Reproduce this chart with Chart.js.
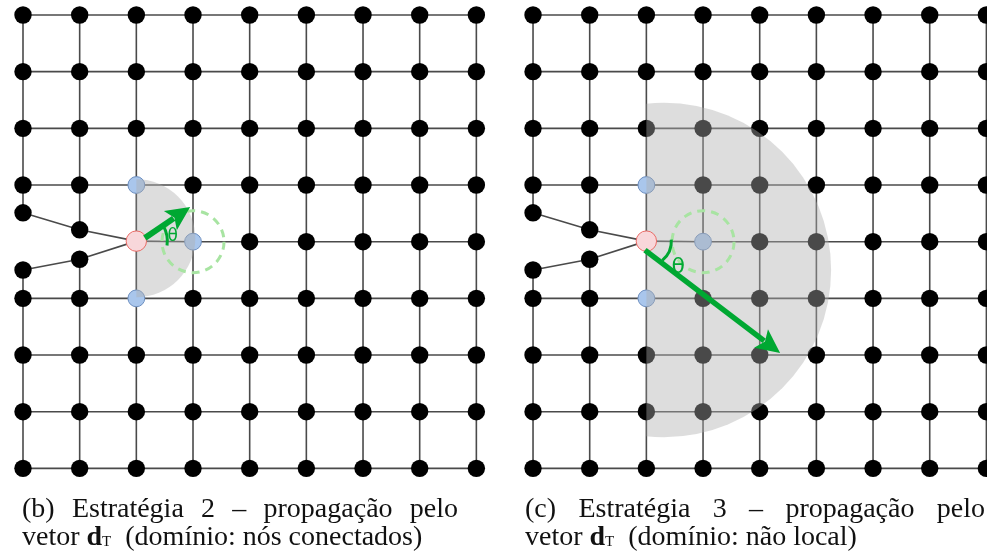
<!DOCTYPE html>
<html>
<head>
<meta charset="utf-8">
<script src="https://cdn.jsdelivr.net/npm/chart.js@4"></script>
<style>
  body { margin: 0; background: #fff; }
  #wrap { position: relative; width: 987px; height: 555px; overflow: hidden; }
  #chart { position: absolute; left: 0; top: 0; }
  .cap { position: absolute; font-family: "Liberation Serif", "Times New Roman", serif; font-size: 28px; line-height: 28px; color: #111; white-space: nowrap; }
  .cap .l1 { text-align: justify; text-align-last: justify; }
  .cap sub { font-size: 15px; vertical-align: baseline; position: relative; top: 1px; }
</style>
</head>
<body>
<div id="wrap">
  <canvas id="chart" width="987" height="555"></canvas>
  <div class="cap" style="left:22px; top:494px; width:436px;">
    <div class="l1">(b) Estratégia 2 – propagação pelo</div>
    <div>vetor <b>d</b><sub>T</sub>&nbsp; (domínio: nós conectados)</div>
  </div>
  <div class="cap" style="left:525px; top:494px; width:460px;">
    <div class="l1">(c) Estratégia 3 – propagação pelo</div>
    <div>vetor <b>d</b><sub>T</sub>&nbsp; (domínio: não local)</div>
  </div>
</div>
<script>
// grid units: one step between neighbouring nodes
var panelOffsets = [0, 9];              // (b) and (c) side by side
var gridCols = [0, 1, 2, 3, 4, 5, 6, 7, 8];
var gridRows = [0, 1, 2, 3, 4, 5, 6, 7, 8];
var bendUpper = [[0, 3.49], [1, 3.79]];  // nodes bent towards the source
var bendLower = [[1, 4.31], [0, 4.5]];
var sourceNode = [2, 3.99];
var neighbourNodes = [[2, 3], [3, 4], [2, 5]];
var vectorTails = [[2.15, 3.935], [1.975, 4.15]];  // d_T start, per panel
var vectorTips = [[2.95, 3.39], [4.36, 5.965]];    // d_T end, per panel
var shadeCentres = [[2, 3.94], [2.31, 4.5]];
var shadeRadii = [1.04, 2.95];
var thetaLabels = ["θ", "θ"];

var step = 56.67;
var inkGreen = "#00a832";

function P(o, p) { return { x: p[0] + o, y: p[1] }; }
function isNeighbour(c, r) {
  return neighbourNodes.some(function (n) { return n[0] === c && n[1] === r; });
}

var edgeSets = [];
var blackPts = [], bluePts = [], redPts = [];

panelOffsets.forEach(function (o) {
  // horizontal lines
  gridRows.forEach(function (r) {
    var line = [];
    if (r === 4) {
      line.push(P(o, sourceNode));
      gridCols.forEach(function (c) { if (c > 2) line.push(P(o, [c, r])); });
    } else {
      gridCols.forEach(function (c) { line.push(P(o, [c, r])); });
    }
    edgeSets.push(line);
  });
  edgeSets.push([P(o, bendUpper[0]), P(o, bendUpper[1]), P(o, sourceNode)]);
  edgeSets.push([P(o, sourceNode), P(o, bendLower[0]), P(o, bendLower[1])]);
  // vertical lines
  gridCols.forEach(function (c) {
    if (c < 2) {
      var up = gridRows.filter(function (r) { return r < 4; }).map(function (r) { return P(o, [c, r]); });
      up.push(P(o, c === 0 ? bendUpper[0] : bendUpper[1]));
      var down = [P(o, c === 0 ? bendLower[1] : bendLower[0])];
      gridRows.forEach(function (r) { if (r > 4) down.push(P(o, [c, r])); });
      edgeSets.push(up, down);
    } else {
      edgeSets.push(gridRows.map(function (r) {
        return (c === 2 && r === 4) ? P(o, sourceNode) : P(o, [c, r]);
      }));
    }
  });
  // nodes
  gridRows.forEach(function (r) {
    gridCols.forEach(function (c) {
      if (r === 4 && c <= 2) return;
      if (isNeighbour(c, r)) return;
      blackPts.push(P(o, [c, r]));
    });
  });
  bendUpper.concat(bendLower).forEach(function (p) { blackPts.push(P(o, p)); });
  neighbourNodes.forEach(function (p) { bluePts.push(P(o, p)); });
  redPts.push(P(o, sourceNode));
});

var datasets = edgeSets.map(function (line) {
  return { data: line, showLine: true, borderColor: "#4a4a4a", borderWidth: 1.6,
           pointRadius: 0, order: 10 };
});
datasets.push({ data: blackPts, pointRadius: 8.7, backgroundColor: "#000", borderWidth: 0, order: 5 });
datasets.push({ data: bluePts, pointRadius: 8.4, backgroundColor: "#a9c6ec", borderColor: "#6c8ebf", borderWidth: 1, order: 4 });
var redIndex = datasets.length;
datasets.push({ data: redPts, pointRadius: 10.2, backgroundColor: "#f8d7da", borderColor: "#ea6b66", borderWidth: 1, order: 1 });

function px(chart, x, y) {
  return [chart.scales.x.getPixelForValue(x), chart.scales.y.getPixelForValue(y)];
}

var shadePlugin = {
  id: "shade",
  beforeDatasetDraw: function (chart, args) {
    if (args.index !== redIndex) return;
    var ctx = chart.ctx;
    panelOffsets.forEach(function (o, i) {
      var c = px(chart, shadeCentres[i][0] + o, shadeCentres[i][1]);
      var rad = chart.scales.x.getPixelForValue(shadeRadii[i]) - chart.scales.x.getPixelForValue(0);
      var edge = px(chart, sourceNode[0] + o, 0)[0];
      ctx.save();
      ctx.beginPath();
      ctx.rect(edge, 0, chart.width, chart.height);
      ctx.clip();
      ctx.beginPath();
      ctx.arc(c[0], c[1], rad, 0, Math.PI * 2);
      ctx.fillStyle = "rgba(175,175,175,0.42)";
      ctx.fill();
      ctx.restore();
    });
  }
};

// angle marker style per panel: arc radius, arc span, label distance / angle
var arcStyle = [
  { r: 31, from: -0.5, to: 0.14, lblDist: 36.5, lblAng: -0.12, font: "17px" },
  { r: 25, from: -0.06, to: 0.88, lblDist: 41, lblAng: 0.68, font: "22px" }
];

var vectorPlugin = {
  id: "vector",
  afterDatasetsDraw: function (chart) {
    var ctx = chart.ctx;
    panelOffsets.forEach(function (o, i) {
      // dashed ring around the closest neighbour
      var nb = px(chart, neighbourNodes[1][0] + o, neighbourNodes[1][1]);
      ctx.save();
      ctx.setLineDash([8, 6]);
      ctx.lineWidth = 3;
      ctx.strokeStyle = "#a8e4a2";
      ctx.beginPath();
      ctx.arc(nb[0], nb[1], 31, 0, Math.PI * 2);
      ctx.stroke();
      ctx.restore();

      var src = px(chart, sourceNode[0] + o, sourceNode[1]);
      var s = px(chart, vectorTails[i][0] + o, vectorTails[i][1]);
      var t = px(chart, vectorTips[i][0] + o, vectorTips[i][1]);
      var ang = Math.atan2(t[1] - s[1], t[0] - s[0]);
      var ux = Math.cos(ang), uy = Math.sin(ang);
      var headLen = 24, headHalf = 11.5;
      ctx.save();
      ctx.strokeStyle = inkGreen;
      ctx.fillStyle = inkGreen;
      ctx.lineWidth = i === 0 ? 6 : 5.5;
      ctx.beginPath();
      ctx.moveTo(s[0], s[1]);
      ctx.lineTo(t[0] - ux * (headLen - 4), t[1] - uy * (headLen - 4));
      ctx.stroke();
      ctx.beginPath();
      ctx.moveTo(t[0], t[1]);
      ctx.lineTo(t[0] - ux * headLen - uy * headHalf, t[1] - uy * headLen + ux * headHalf);
      ctx.lineTo(t[0] - ux * (headLen - 5), t[1] - uy * (headLen - 5));
      ctx.lineTo(t[0] - ux * headLen + uy * headHalf, t[1] - uy * headLen - ux * headHalf);
      ctx.closePath();
      ctx.fill();

      // angle arc and label
      var a = arcStyle[i];
      ctx.lineWidth = 3;
      ctx.beginPath();
      ctx.arc(src[0], src[1], a.r, a.from, a.to);
      ctx.stroke();
      ctx.font = a.font + " 'DejaVu Sans', sans-serif";
      ctx.textAlign = "center";
      ctx.textBaseline = "middle";
      ctx.fillText(thetaLabels[i], src[0] + Math.cos(a.lblAng) * a.lblDist, src[1] + Math.sin(a.lblAng) * a.lblDist);
      ctx.restore();
    });
  }
};

var ctx = document.getElementById("chart").getContext("2d");
var myChart = new Chart(ctx, {
  type: "scatter",
  data: { datasets: datasets },
  options: {
    responsive: false,
    animation: false,
    layout: { padding: 0, autoPadding: false },
    plugins: { legend: { display: false }, tooltip: { enabled: false } },
    scales: {
      x: { display: false, min: -23 / step, max: (987 - 23) / step },
      y: { display: false, reverse: true, min: -15 / step, max: (555 - 15) / step }
    }
  },
  plugins: [shadePlugin, vectorPlugin]
});
</script>
</body>
</html>
